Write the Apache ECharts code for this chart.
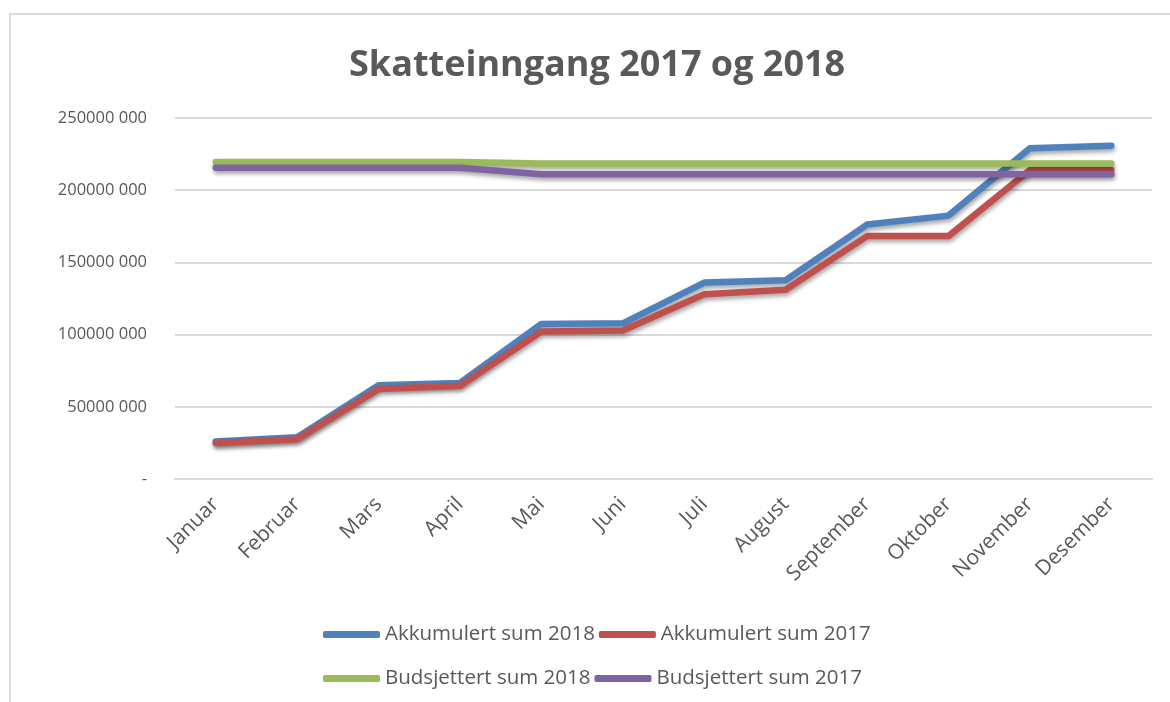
<!DOCTYPE html>
<html>
<head>
<meta charset="utf-8">
<script src="https://cdn.jsdelivr.net/npm/echarts@6/dist/echarts.min.js"></script>
<style>
html,body{margin:0;padding:0;background:#fff;}
#c{width:1170px;height:702px;}
</style>
</head>
<body>
<div id="c"></div>
<script>
const titleText = 'Skatteinngang 2017 og 2018';
const months = ['Januar','Februar','Mars','April','Mai','Juni','Juli','August','September','Oktober','November','Desember'];
const akk2018 = [26000000, 28900000, 64900000, 66500000, 107400000, 107800000, 136000000, 137600000, 176200000, 182400000, 229000000, 230800000];
const akk2017 = [25000000, 27500000, 62400000, 64500000, 102100000, 102800000, 128000000, 131000000, 168200000, 168200000, 214000000, 214000000];
const bud2018 = [219500000, 219500000, 219500000, 219500000, 218500000, 218500000, 218500000, 218500000, 218500000, 218500000, 218500000, 218500000];
const bud2017 = [215500000, 215500000, 215500000, 215500000, 211000000, 211000000, 211000000, 211000000, 211000000, 211000000, 211000000, 211000000];
const seriesNames = ['Akkumulert sum 2018','Akkumulert sum 2017','Budsjettert sum 2018','Budsjettert sum 2017'];
const colors = ['#4F81BD','#C0504D','#9BBB59','#8064A2'];

const FONT = 'Open Sans';
const TXT = '#595959';

function mk(name, data, color) {
  return {
    name: name, type: 'line', data: data, showSymbol: false, symbol: 'none',
    itemStyle: {color: color},
    lineStyle: {width: 6.5, color: color, cap: 'round', join: 'round',
      shadowColor: 'rgba(0,0,0,0.35)', shadowBlur: 4, shadowOffsetX: 1, shadowOffsetY: 3},
    emphasis: {disabled: true}, animation: false
  };
}

const chart = echarts.init(document.getElementById('c'));
const legendCommon = {
  left: 318, orient: 'horizontal', icon: 'roundRect', itemWidth: 57, itemHeight: 7, itemGap: 4,
  textStyle: {fontFamily: FONT, fontSize: 20.5, color: TXT, width: 212, padding: [0,0,0,0]},
  selectedMode: false
};
chart.setOption({
  animation: false,
  color: colors,
  title: {text: titleText, left: 344, top: 43,
    textStyle: {fontFamily: FONT, fontSize: 36, fontWeight: 'bold', color: TXT}},
  graphic: [{type: 'rect', shape: {x: 10, y: 14, width: 1200, height: 720},
    style: {fill: 'none', stroke: '#d9d9d9', lineWidth: 2}, silent: true}],
  legend: [
    Object.assign({}, legendCommon, {top: 619, data: [seriesNames[0], seriesNames[1]]}),
    Object.assign({}, legendCommon, {top: 663, data: [seriesNames[2], seriesNames[3]]})
  ],
  grid: {left: 175, right: 18, top: 118, bottom: 223, containLabel: false},
  xAxis: {type: 'category', data: months, boundaryGap: true,
    axisLine: {lineStyle: {color: '#d9d9d9', width: 2}}, axisTick: {show: false},
    axisLabel: {rotate: 45, fontFamily: FONT, fontSize: 21, color: TXT, margin: 22, interval: 0}},
  yAxis: {type: 'value', min: 0, max: 250000000, interval: 50000000,
    axisLine: {show: false}, axisTick: {show: false},
    splitLine: {lineStyle: {color: '#d9d9d9', width: 2}},
    axisLabel: {fontFamily: FONT, fontSize: 16.5, color: TXT, margin: 28,
      formatter: function(v){ return v === 0 ? '-' : (v/1000) + ' 000'; }}},
  series: [mk(seriesNames[0], akk2018, colors[0]), mk(seriesNames[1], akk2017, colors[1]),
           mk(seriesNames[2], bud2018, colors[2]), mk(seriesNames[3], bud2017, colors[3])]
});
</script>
</body>
</html>
